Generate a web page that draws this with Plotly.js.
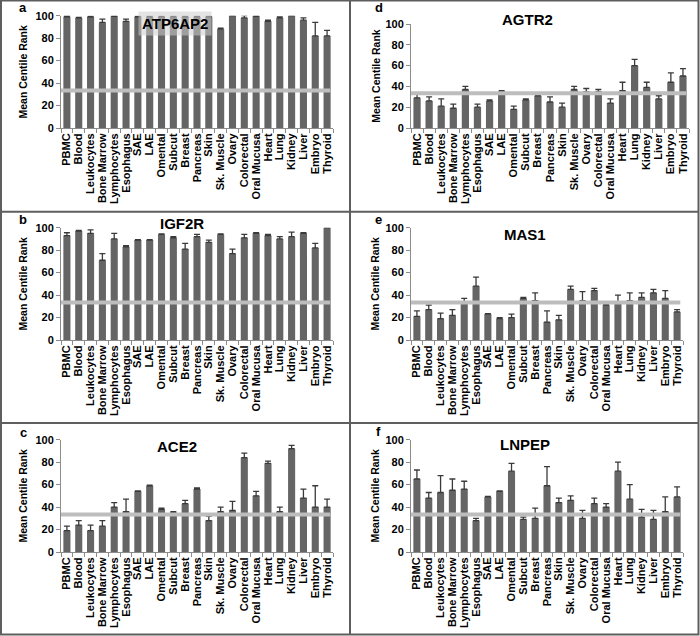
<!DOCTYPE html>
<html>
<head>
<meta charset="utf-8">
<script src="https://cdn.plot.ly/plotly-3.0.1.min.js"></script>
<style>html,body{margin:0;padding:0;background:#fff;}#chart{width:700px;height:636px;}</style>
</head>
<body>
<div id="chart"></div>
<script>
// ---------------- DATA ----------------
const categories = ["PBMC","Blood","Leukocytes","Bone Marrow","Lymphocytes","Esophagus","SAE","LAE","Omental","Subcut","Breast","Pancreas","Skin","Sk. Muscle","Ovary","Colorectal","Oral Mucusa","Heart","Lung","Kidney","Liver","Embryo","Thyroid"];

const genes = ["ATP6AP2","IGF2R","ACE2","AGTR2","MAS1","LNPEP"];
const panelLetters = ["a","b","c","d","e","f"];

const atp6ap2    = [99,98,99,94,99.5,95,99,99,99,99,99,99,99,88,100,98,99.5,95,98,100,96,82,82];
const atp6ap2Err = [1,0.5,0.5,3,0.5,2,0.5,0.5,0.5,0.5,0.5,0.5,0.5,1,0.3,2,0.5,1,1,0.3,2,12,5];

const igf2r    = [93,97,95,71,90,83,89,89,94,91,81,92,87,94,77,91,95,93,90,92,95,82,100];
const igf2rErr = [2.5,0.5,3,6,5,1,0.3,0.3,0.5,1,5,2,2,0.5,4,3,0.5,1,2,4,0.5,4,0.3];

const ace2    = [19,24,19,23,40,36,54,59,38,35,43,56,28,36,37,84,50,79,36,92,48,40,40];
const ace2Err = [4,4,5,5,4,11,0.5,0.5,1,1,3,1,4,4,8,4,4,2,4,3,8,19,7];

const agtr2    = [29,26,21,19,37,20,26,35,18,27,31,25,20,37,35,35,24,36,60,39,28,44,50];
const agtr2Err = [4,4,7,4,3,3,1,1,3,1,0.5,5,4,3,3,2,4,8,6,5,3,9,7];

const mas1    = [21,27,19,22,34,48,23,19,20,37,35,16,18,45,35,44,31,34,35,38,42,37,25];
const mas1Err = [5,4,5,5,3,8,0.5,1,3,1,7,10,4,3,8,2,0.5,6,7,4,3,7,2];

const lnpep    = [65,48,53,55,56,28,49,54,72,29,30,59,44,46,30,43,40,72,47,31,29,36,49];
const lnpepErr = [8,5,15,10,7,2,0.5,0.5,7,2,9,17,4,4,7,5,3,8,13,7,8,13,9];

const threshold = 33.3;   // reference line (one third)

const yTickVals = [0,20,40,60,80,100];
const yTitle = "Mean Centile Rank";

// ---------------- LAYOUT HELPERS ----------------
const W = 700, H = 636;
const px = x => x / W;
const py = y => 1 - y / H;

const series = [
  {v: atp6ap2, e: atp6ap2Err},
  {v: igf2r, e: igf2rErr},
  {v: ace2, e: ace2Err},
  {v: agtr2, e: agtr2Err},
  {v: mas1, e: mas1Err},
  {v: lnpep, e: lnpepErr}
];

// plot-area boxes in pixels [left, right, top, bottom]
const boxes = [
  [61, 333, 15.7, 128],
  [61, 333, 227.7, 340],
  [61, 333, 439.7, 552],
  [411, 689, 24, 128],
  [411, 683, 227.7, 340],
  [411, 683, 439.7, 552]
];
const titlePos = [[175,23],[182,224],[177,446],[527,20],[525,234],[525,444]];
const letterPos = [[23,8],[23,220],[23,432],[379,8],[378,219],[378,431]];
const yStandoff = [5,5,5,2,3,3];

const FONT = "Liberation Sans, Arial, sans-serif";
const BAR = "#656565";
const AX = "#8c8c8c";

const traces = [];
const layout = {
  width: W, height: H,
  margin: {l:0, r:0, t:0, b:0},
  paper_bgcolor: "#fff",
  plot_bgcolor: "rgba(0,0,0,0)",
  showlegend: false,
  font: {family: FONT, size: 10, color: "#000", weight: "bold"},
  bargap: 0.4,
  shapes: [],
  annotations: []
};

series.forEach((s, i) => {
  const n = i === 0 ? "" : String(i + 1);
  traces.push({
    type: "bar",
    x: categories,
    y: s.v,
    xaxis: "x" + n,
    yaxis: "y" + n,
    marker: {color: BAR, line: {width: 0}},
    error_y: {type: "data", array: s.e, symmetric: false, arrayminus: s.e.map(() => 0), color: "#3a3a3a", thickness: 1.3, width: 3},
    hoverinfo: "x+y"
  });
  const b = boxes[i];
  layout["xaxis" + n] = {
    domain: [px(b[0]), px(b[1])],
    anchor: "y" + n,
    type: "category",
    tickmode: "array",
    tickvals: categories,
    ticktext: categories,
    tickangle: -90,
    showline: true, linecolor: AX, linewidth: 1,
    ticks: "outside", tickson: "boundaries", ticklen: 4, tickcolor: AX,
    showgrid: false, zeroline: false,
    tickfont: {family: FONT, size: 11, color: "#000", weight: "bold"},
    automargin: false, fixedrange: true
  };
  layout["yaxis" + n] = {
    domain: [py(b[3]), py(b[2])],
    anchor: "x" + n,
    range: [0, 100],
    tickvals: yTickVals,
    showline: true, linecolor: AX, linewidth: 1,
    ticks: "outside", ticklen: 4, tickcolor: AX,
    showgrid: false, zeroline: false,
    tickfont: {family: FONT, size: 11, color: "#000", weight: "bold"},
    title: {text: yTitle, font: {family: FONT, size: 10.5, color: "#000", weight: "bold"}, standoff: yStandoff[i]},
    automargin: false, fixedrange: true
  };
  // reference line at one third
  layout.shapes.push({
    type: "line", xref: "x" + n + " domain", yref: "y" + n,
    x0: 0, x1: 0.99, y0: threshold, y1: threshold,
    line: {color: "#bdbdbd", width: 4}, layer: "above"
  });
  // gene title
  layout.annotations.push({
    text: genes[i], xref: "paper", yref: "paper",
    x: px(titlePos[i][0]), y: py(titlePos[i][1]),
    xanchor: "center", yanchor: "middle", showarrow: false,
    font: {family: FONT, size: 15, color: "#000", weight: "bold"},
    bgcolor: i === 0 ? "rgba(205,205,205,0.55)" : "rgba(0,0,0,0)",
    borderpad: i === 0 ? 3 : 0
  });
  // panel letter
  layout.annotations.push({
    text: panelLetters[i], xref: "paper", yref: "paper",
    x: px(letterPos[i][0]), y: py(letterPos[i][1]),
    xanchor: "center", yanchor: "middle", showarrow: false,
    font: {family: FONT, size: 13, color: "#000", weight: "bold"}
  });
});

// panel frames
const frame = {color: "#5e5e5e", width: 2};
layout.shapes.push(
  {type: "rect", xref: "paper", yref: "paper", x0: px(1), x1: px(698.5), y0: py(634.5), y1: py(0.5), line: frame, layer: "above"},
  {type: "line", xref: "paper", yref: "paper", x0: px(350), x1: px(350), y0: py(634.5), y1: py(0.5), line: frame, layer: "above"},
  {type: "line", xref: "paper", yref: "paper", x0: px(1), x1: px(698.5), y0: py(211.7), y1: py(211.7), line: frame, layer: "above"},
  {type: "line", xref: "paper", yref: "paper", x0: px(1), x1: px(698.5), y0: py(423), y1: py(423), line: frame, layer: "above"}
);

Plotly.newPlot("chart", traces, layout, {staticPlot: true, displayModeBar: false});
</script>
</body>
</html>
